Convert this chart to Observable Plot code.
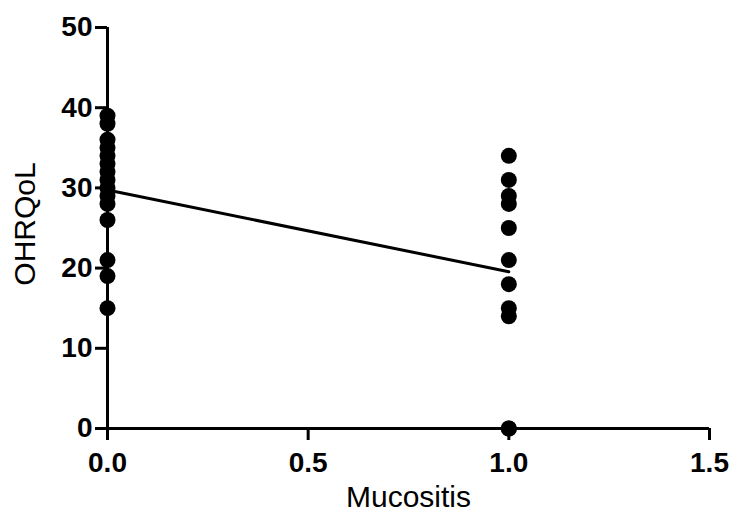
<!DOCTYPE html>
<html>
<head>
<meta charset="utf-8">
<script src="https://cdn.jsdelivr.net/npm/d3@7"></script>
<script src="https://cdn.jsdelivr.net/npm/@observablehq/plot@0.6"></script>
<style>
  html, body { margin: 0; padding: 0; background: #fff; }
  #chart svg { display: block; }
  #chart g[aria-label$="axis tick"] { stroke-width: 3px; }
  #chart g[aria-label$="axis tick label"] { font-size: 28px; font-weight: bold; }
</style>
</head>
<body>
<div id="chart"></div>
<script>
// Mucositis group (x) and OHRQoL scores (y)
const group0 = [39, 38, 36, 35, 34, 33, 32, 31, 30, 29, 28, 26, 21, 19, 15];
const group1 = [34, 31, 29, 28, 25, 21, 18, 15, 14, 0, 0];
const xTicks = [0, 0.5, 1.0, 1.5];
const yTicks = [0, 10, 20, 30, 40, 50];

const data = [
  ...group0.map(v => ({mucositis: 0, ohrqol: v})),
  ...group1.map(v => ({mucositis: 1, ohrqol: v}))
];

const chart = Plot.plot({
  width: 733,
  height: 522,
  marginLeft: 107,
  marginRight: 24,
  marginTop: 27,
  marginBottom: 94,
  style: {fontFamily: "'Liberation Sans', Arial, sans-serif", color: "#000", background: "#fff"},
  x: {domain: [0, 1.5]},
  y: {domain: [0, 50]},
  marks: [
    Plot.axisX({ticks: xTicks, tickFormat: d3.format(".1f"), tickSize: 12, tickPadding: 12, label: null}),
    Plot.axisY({ticks: yTicks, tickSize: 12, tickPadding: 3, label: null}),
    Plot.ruleY([0], {x1: 0, x2: 1.5, strokeWidth: 3}),
    Plot.ruleX([0], {y1: 0, y2: 50, strokeWidth: 3}),
    Plot.linearRegressionY(data, {x: "mucositis", y: "ohrqol", ci: 0, stroke: "#000", strokeWidth: 3}),
    Plot.dot(data, {x: "mucositis", y: "ohrqol", r: 8, fill: "#000", stroke: "none"}),
    Plot.text(["Mucositis"], {frameAnchor: "bottom", dy: 78, fontSize: 30, text: d => d}),
    Plot.text(["OHRQoL"], {frameAnchor: "left", textAnchor: "middle", dx: -82, dy: -4, rotate: -90, fontSize: 30, text: d => d})
  ]
});
document.getElementById("chart").appendChild(chart);
</script>
</body>
</html>
